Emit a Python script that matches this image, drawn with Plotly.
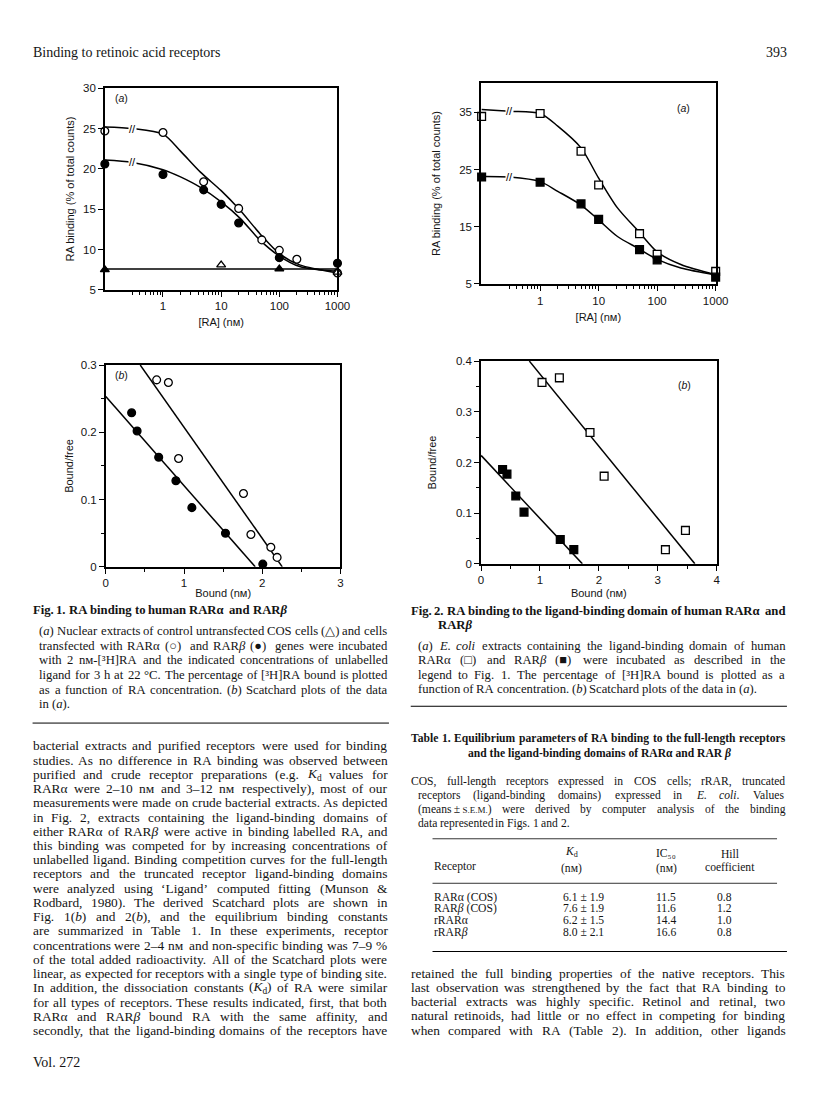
import math
import re
import plotly.graph_objects as go

# The html page keeps the browser's default 8px body margin, so the figure is
# drawn 8px to the right of / below the window corner.
PAGE_OFF = 8
W, H = 808, 1084
XS = 1.01  # slight horizontal stretch about the left text margin
def px(x): return (30 + (x - 30) * XS - PAGE_OFF) / W
def py(y): return 1 - (y - PAGE_OFF) / H

# ---------------- DATA ----------------
# Fig 1a: RA competition, COS cells
f1a_open_x = [0.1, 1, 5, 20, 50, 100, 200, 1000]
f1a_open_y = [24.7, 24.5, 18.4, 15.1, 11.2, 9.9, 8.8, 7.1]
f1a_fill_x = [0.1, 1, 5, 10, 20, 100, 1000]
f1a_fill_y = [20.6, 19.3, 17.4, 15.6, 13.3, 9.0, 8.3]
f1a_otri_x = [10, 1000]
f1a_otri_y = [8.1, 7.2]
f1a_ftri_x = [0.1, 100]
f1a_ftri_y = [7.5, 7.6]
f1a_curve_x = [0.1, 0.3, 1, 2, 4.4, 10, 21, 46, 100, 224, 1000]
f1a_curve_open = [25.2, 25.0, 24.3, 22.2, 19.6, 17.3, 14.9, 12.0, 9.5, 8.1, 7.1]
f1a_curve_fill = [21.1, 20.8, 19.9, 19.0, 17.7, 15.9, 13.9, 11.2, 9.2, 7.9, 7.3]
f1a_ctrl_x = [0.1, 1000]
f1a_ctrl_y = [7.6, 7.6]

# Fig 2a: RA competition, E. coli extracts
f2a_x = [0.1, 1, 5, 10, 50, 100, 1000]
f2a_open_y = [34.3, 34.8, 28.2, 22.3, 13.8, 10.2, 7.2]
f2a_fill_y = [23.7, 22.8, 19.0, 16.3, 11.0, 9.2, 6.2]
f2a_curve_x = [0.1, 0.3, 1, 2, 5, 10, 21, 48, 100, 254, 1000]
f2a_curve_open = [35.5, 35.2, 34.8, 32.6, 28.8, 23.5, 18.3, 14.2, 10.6, 8.4, 6.6]
f2a_curve_fill = [23.8, 23.7, 22.9, 21.2, 18.8, 16.2, 13.3, 11.2, 9.3, 7.8, 6.6]

# Fig 1b: Scatchard
f1b_open_x = [0.65, 0.80, 0.93, 1.76, 1.855, 2.11, 2.19]
f1b_open_y = [0.278, 0.274, 0.161, 0.109, 0.048, 0.029, 0.014]
f1b_fill_x = [0.33, 0.40, 0.676, 0.896, 1.10, 1.53, 2.007]
f1b_fill_y = [0.229, 0.202, 0.163, 0.128, 0.088, 0.050, 0.004]
f1b_line_open_x = [0.44, 2.256]
f1b_line_open_y = [0.30, 0.0]
f1b_line_fill_x = [0.0, 1.91]
f1b_line_fill_y = [0.2533, 0.0]

# Fig 2b: Scatchard
f2b_open_x = [1.035, 1.33, 1.85, 2.09, 3.13, 3.47]
f2b_open_y = [0.358, 0.367, 0.259, 0.173, 0.028, 0.066]
f2b_fill_x = [0.366, 0.44, 0.59, 0.73, 1.345, 1.575]
f2b_fill_y = [0.186, 0.177, 0.134, 0.102, 0.048, 0.028]
f2b_line_open_x = [0.82, 3.63]
f2b_line_open_y = [0.40, 0.0]
f2b_line_fill_x = [0.0, 1.72]
f2b_line_fill_y = [0.214, 0.0]

break_x = 0.3

log_ticks = [1, 10, 100, 1000]
log_labels = ["1", "10", "100", "1000"]
log_minor = [0.3, 0.4, 0.5, 0.6, 0.7, 0.8, 0.9] + [m * d for d in (1, 10, 100) for m in range(2, 10)]
f1a_yticks = [5, 10, 15, 20, 25, 30]
f2a_yticks = [5, 15, 25, 35]
f1b_xticks = [0, 1, 2, 3]
f1b_yticks = [0, 0.1, 0.2, 0.3]
f1b_ylabels = ["0", "0.1", "0.2", "0.3"]
f2b_xticks = [0, 1, 2, 3, 4]
f2b_yticks = [0, 0.1, 0.2, 0.3, 0.4]
f2b_ylabels = ["0", "0.1", "0.2", "0.3", "0.4"]

# Table 1
tbl_receptor = ["RARα (COS)", "RAR<i>β</i> (COS)", "rRARα", "rRAR<i>β</i>"]
tbl_kd = ["6.1 ± 1.9", "7.6 ± 1.9", "6.2 ± 1.5", "8.0 ± 2.1"]
tbl_ic50 = ["11.5", "11.6", "14.4", "16.6"]
tbl_hill = ["0.8", "1.2", "1.0", "0.8"]

body_left = [
    "bacterial extracts and purified receptors were used for binding",
    "studies. As no difference in RA binding was observed between",
    "purified and crude receptor preparations (e.g. <i>K</i><sub>d</sub> values for",
    "RARα were 2–10 nᴍ and 3–12 nᴍ respectively), most of our",
    "measurements were made on crude bacterial extracts. As depicted",
    "in Fig. 2, extracts containing the ligand-binding domains of",
    "either RARα of RAR<i>β</i> were active in binding labelled RA, and",
    "this binding was competed for by increasing concentrations of",
    "unlabelled ligand. Binding competition curves for the full-length",
    "receptors and the truncated receptor ligand-binding domains",
    "were analyzed using ‘Ligand’ computed fitting (Munson &amp;",
    "Rodbard, 1980). The derived Scatchard plots are shown in",
    "Fig. 1(<i>b</i>) and 2(<i>b</i>), and the equilibrium binding constants",
    "are summarized in Table 1. In these experiments, receptor",
    "concentrations were 2–4 nᴍ and non-specific binding was 7–9 %",
    "of the total added radioactivity. All of the Scatchard plots were",
    "linear, as expected for receptors with a single type of binding site.",
    "In addition, the dissociation constants (<i>K</i><sub>d</sub>) of RA were similar",
    "for all types of receptors. These results indicated, first, that both",
    "RARα and RAR<i>β</i> bound RA with the same affinity, and",
    "secondly, that the ligand-binding domains of the receptors have",
]
body_right = [
    "retained the full binding properties of the native receptors. This",
    "last observation was strengthened by the fact that RA binding to",
    "bacterial extracts was highly specific. Retinol and retinal, two",
    "natural retinoids, had little or no effect in competing for binding",
    "when compared with RA (Table 2). In addition, other ligands",
]
cap1_title = "Fig. 1. RA binding to human RARα and RAR<i>β</i>"
cap1 = [
    "(<i>a</i>) Nuclear extracts of control untransfected COS cells (△) and cells",
    "transfected with RARα (○) and RAR<i>β</i> (●) genes were incubated",
    "with 2 nᴍ-[³H]RA and the indicated concentrations of unlabelled",
    "ligand for 3 h at 22 °C. The percentage of [³H]RA bound is plotted",
    "as a function of RA concentration. (<i>b</i>) Scatchard plots of the data",
    "in (<i>a</i>).",
]
cap2_title = ["Fig. 2. RA binding to the ligand-binding domain of human RARα and", "RAR<i>β</i>"]
cap2 = [
    "(<i>a</i>) <i>E.</i> <i>coli</i> extracts containing the ligand-binding domain of human",
    "RARα (□) and RAR<i>β</i> (■) were incubated as described in the",
    "legend to Fig. 1. The percentage of [³H]RA bound is plotted as a",
    "function of RA concentration. (<i>b</i>) Scatchard plots of the data in (<i>a</i>).",
]
tbl_title = ["Table 1. Equilibrium parameters of RA binding to the full-length receptors",
             "and the ligand-binding domains of RARα and RAR <i>β</i>"]
tbl_note = [
    "COS, full-length receptors expressed in COS cells; rRAR, truncated",
    "receptors (ligand-binding domains) expressed in <i>E.</i> <i>coli</i>. Values",
    "(means\u2009±\u2009<span style='font-size:9px'>S.E.M.</span>) were derived by computer analysis of the binding",
    "data represented in Figs. 1 and 2.",
]

# ---------------- text metrics (Times / Liberation Serif, per 1000 em) -------------
def _tbl(s, w):
    return {c: w for c in s}
TR = {}
TR.update(_tbl("0123456789", 500)); TR.update({" ": 250, "\u2009": 200, ",": 250, ".": 250, ";": 278, ":": 278,
          "(": 333, ")": 333, "[": 333, "]": 333, "-": 333, "–": 500, "‘": 333, "’": 333, "&": 778,
          "%": 833, "±": 564, "°": 400, "³": 300, "α": 560, "β": 520, "ᴍ": 700, "/": 278,
          "△": 780, "○": 870, "●": 870, "□": 780, "■": 780})
TR.update(dict(zip("ABCDEFGHIJKLMNOPQRSTUVWXYZ",
                   [722, 667, 667, 722, 611, 556, 722, 722, 333, 389, 722, 611, 889, 722, 722, 556, 722, 667, 556, 611, 722, 722, 944, 722, 722, 611])))
TR.update(dict(zip("abcdefghijklmnopqrstuvwxyz",
                   [444, 500, 444, 500, 444, 333, 500, 500, 278, 278, 500, 278, 778, 500, 500, 500, 500, 333, 389, 278, 500, 500, 722, 500, 500, 444])))
TB = dict(TR)
TB.update(dict(zip("ABCDEFGHIJKLMNOPQRSTUVWXYZ",
                   [722, 667, 722, 722, 667, 611, 778, 778, 389, 500, 778, 667, 944, 722, 778, 611, 778, 722, 556, 667, 722, 722, 1000, 722, 722, 667])))
TB.update(dict(zip("abcdefghijklmnopqrstuvwxyz",
                   [500, 556, 444, 556, 444, 333, 500, 556, 278, 333, 556, 278, 833, 556, 500, 556, 556, 444, 389, 333, 556, 500, 722, 500, 500, 444])))
TB.update({"α": 780, "β": 640})
TI = dict(TR)
TI.update(dict(zip("ABCDEFGHIJKLMNOPQRSTUVWXYZ",
                   [611, 611, 667, 722, 611, 611, 722, 722, 333, 444, 667, 556, 833, 667, 722, 611, 722, 611, 500, 556, 722, 611, 833, 611, 556, 556])))
TI.update(dict(zip("abcdefghijklmnopqrstuvwxyz",
                   [500, 500, 444, 500, 444, 278, 500, 500, 278, 278, 444, 278, 722, 500, 500, 500, 500, 389, 389, 278, 500, 444, 667, 444, 444, 389])))

def measure(html, size, bold=False):
    total = 0.0
    it = False; sub = False; override = None
    for tok in re.split(r"(<[^>]+>|&amp;)", html):
        if not tok:
            continue
        if tok.startswith("<"):
            t = tok.lower()
            if t == "<i>": it = True
            elif t == "</i>": it = False
            elif t in ("<sub>", "<sup>"): sub = True
            elif t in ("</sub>", "</sup>"): sub = False
            elif t.startswith("<span"):
                m = re.search(r"font-size:\s*([\d.]+)px", t)
                override = float(m.group(1)) if m else None
            elif t == "</span>": override = None
            continue
        if tok == "&amp;":
            tok = "&"
        table = TB if bold else (TI if it else TR)
        f = (override or size) * (0.7 if sub else 1.0)
        for ch in tok:
            total += table.get(ch, 500) / 1000.0 * f
    return total

# ---------------- FIGURE ----------------
SERIF = "Liberation Serif, Times New Roman, serif"
SANS = "Liberation Sans, Arial, Helvetica, sans-serif"
INK = "#141414"
fig = go.Figure()

frames = {
    1: (103, 338, 83, 287),   # fig 1a
    2: (483, 720, 78, 281),   # fig 2a
    3: (104, 341, 363, 567),  # fig 1b
    4: (483, 721, 359, 564),  # fig 2b
}

def axes_names(i):
    return ("x" if i == 1 else f"x{i}"), ("y" if i == 1 else f"y{i}")

def line_trace(i, x, y):
    xa, ya = axes_names(i)
    fig.add_trace(go.Scatter(x=x, y=y, mode="lines", xaxis=xa, yaxis=ya,
                             line=dict(color="black", width=1.5, shape="spline", smoothing=0.8),
                             showlegend=False, hoverinfo="skip", cliponaxis=False))

def marker_trace(i, x, y, symbol, filled, size=7.8):
    xa, ya = axes_names(i)
    fig.add_trace(go.Scatter(x=x, y=y, mode="markers", xaxis=xa, yaxis=ya,
                             marker=dict(symbol=symbol, size=size,
                                         color="black" if filled else "white",
                                         line=dict(color="black", width=1.3)),
                             showlegend=False, hoverinfo="skip", cliponaxis=False))

line_trace(1, f1a_curve_x, f1a_curve_open)
line_trace(1, f1a_curve_x, f1a_curve_fill)
line_trace(1, f1a_ctrl_x, f1a_ctrl_y)
marker_trace(1, f1a_open_x, f1a_open_y, "circle", False)
marker_trace(1, f1a_fill_x, f1a_fill_y, "circle", True)
marker_trace(1, f1a_otri_x, f1a_otri_y, "triangle-up", False)
marker_trace(1, f1a_ftri_x, f1a_ftri_y, "triangle-up", True)

line_trace(2, f2a_curve_x, f2a_curve_open)
line_trace(2, f2a_curve_x, f2a_curve_fill)
marker_trace(2, f2a_x, f2a_open_y, "square", False)
marker_trace(2, f2a_x, f2a_fill_y, "square", True)

line_trace(3, f1b_line_open_x, f1b_line_open_y)
line_trace(3, f1b_line_fill_x, f1b_line_fill_y)
marker_trace(3, f1b_open_x, f1b_open_y, "circle", False)
marker_trace(3, f1b_fill_x, f1b_fill_y, "circle", True)

line_trace(4, f2b_line_open_x, f2b_line_open_y)
line_trace(4, f2b_line_fill_x, f2b_line_fill_y)
marker_trace(4, f2b_open_x, f2b_open_y, "square", False)
marker_trace(4, f2b_fill_x, f2b_fill_y, "square", True)

TS = 11
base_axis = dict(showline=True, linecolor="black", linewidth=1.5, mirror=True,
                 ticks="outside", ticklen=5, tickwidth=1.2, tickcolor="black",
                 showgrid=False, zeroline=False,
                 tickfont=dict(family=SANS, size=11.5, color=INK))

def set_axes(i, xa, ya, xtitle, ytitle, xstand, ystand):
    l, r, t, b = frames[i]
    xk = "xaxis" if i == 1 else f"xaxis{i}"
    yk = "yaxis" if i == 1 else f"yaxis{i}"
    xname, yname = axes_names(i)
    fig.update_layout({
        xk: dict(base_axis, domain=[px(l), px(r)], anchor=yname,
                 title=dict(text=xtitle, standoff=xstand, font=dict(family=SANS, size=TS, color=INK)), **xa),
        yk: dict(base_axis, domain=[py(b), py(t)], anchor=xname,
                 title=dict(text=ytitle, standoff=ystand, font=dict(family=SANS, size=TS, color=INK)), **ya),
    })

minor_log = dict(tickvals=log_minor, ticklen=3, ticks="outside", tickcolor="black", tickwidth=1)
minor_half = dict(dtick=0.5, ticklen=3, ticks="outside", tickcolor="black")
minor_y = dict(dtick=0.05, ticklen=3, ticks="outside", tickcolor="black")
RA_T = "[RA] (nᴍ)"
RB_T = "RA binding (% of total counts)"
set_axes(1, dict(type="log", range=[-1.0, 3.0], tickvals=log_ticks, ticktext=log_labels, minor=minor_log),
         dict(range=[5, 30], tickvals=f1a_yticks), RA_T, RB_T, 7, 6)
set_axes(2, dict(type="log", range=[-1.01, 3.0], tickvals=log_ticks, ticktext=log_labels, minor=minor_log),
         dict(range=[5, 40.1], tickvals=f2a_yticks), RA_T, RB_T, 8, 16)
set_axes(3, dict(range=[0, 3], tickvals=f1b_xticks, minor=minor_half),
         dict(range=[0, 0.3], tickvals=f1b_yticks, ticktext=f1b_ylabels, minor=minor_y),
         "Bound (nᴍ)", "Bound/free", 1, 5)
set_axes(4, dict(range=[0, 4], tickvals=f2b_xticks, minor=minor_half),
         dict(range=[0, 0.4], tickvals=f2b_yticks, ticktext=f2b_ylabels, minor=minor_y),
         "Bound (nᴍ)", "Bound/free", 4, 17)

annotations = []

def text(x, y, s, size=13.4, family=SERIF, anchor="left", angle=0, color=INK):
    annotations.append(dict(x=px(x), y=py(y), xref="paper", yref="paper", text=s,
                            showarrow=False, xanchor=anchor, yanchor="middle",
                            borderpad=0, borderwidth=0,
                            textangle=angle, font=dict(family=family, size=size, color=color)))

def para_line(x0, x1, y, html, size, justify=True, bold=False):
    words = re.findall(r"(?:<[^>]*>|[^ <])+", html)
    widths = [measure(w, size, bold) for w in words]
    space = 0.25 * size
    gap = space
    if justify and len(words) > 1:
        gap = (x1 - x0 - sum(widths)) / (len(words) - 1)
        if gap < 0.8 * space:
            gap = 0.8 * space
    x = x0
    for w, wd in zip(words, widths):
        text(x, y, f"<b>{w}</b>" if bold else w, size)
        x += wd + gap

# break marks on curves
for i, cx, cys in ((1, f1a_curve_x, (f1a_curve_open, f1a_curve_fill)),
                   (2, f2a_curve_x, (f2a_curve_open, f2a_curve_fill))):
    xa, ya = axes_names(i)
    k = cx.index(break_x)
    for cy in cys:
        annotations.append(dict(x=math.log10(break_x), y=cy[k], xref=xa, yref=ya, text="//",
                                showarrow=False, bgcolor="white", borderpad=0,
                                font=dict(family=SANS, size=11, color="black")))

# panel labels
text(113, 93, "(<i>a</i>)", 10.5, SANS)
text(681, 103, "(<i>a</i>)", 10.5, SANS)
text(113, 373, "(<i>b</i>)", 10.5, SANS)
text(682, 383, "(<i>b</i>)", 10.5, SANS)

# running head
text(30, 47, "Binding to retinoic acid receptors", 14)
text(792, 47, "393", 14, anchor="right")

# column geometry
LX0, LX1 = 30, 388
RX0, RX1 = 412, 790

# Fig 1 caption
CAP = 12.7
para_line(LX0, LX1, 611, cap1_title, CAP, justify=False, bold=True)
for k, s in enumerate(cap1):
    para_line(37, LX1, 632 + 14.8 * k, s, CAP, justify=(k < len(cap1) - 1))
# Fig 2 caption
para_line(RX0, RX1, 612, cap2_title[0], CAP, justify=True, bold=True)
para_line(440, RX1, 626, cap2_title[1], CAP, justify=False, bold=True)
for k, s in enumerate(cap2):
    para_line(419, RX1, 647 + 14.6 * k, s, CAP, justify=(k < len(cap2) - 1))

# Table 1
TT = 11.6
para_line(RX0, RX1, 741, tbl_title[0], TT, justify=True, bold=True)
text(603, 756, f"<b>{tbl_title[1]}</b>", TT, anchor="center")
TN = 11.6
for k, s in enumerate(tbl_note):
    para_line(RX0 if k == 0 else 419, RX1, 784 + 14.1 * k, s, TN, justify=(k < len(tbl_note) - 1))
text(435, 870, "Receptor", TN)
text(574, 855, "<i>K</i><sub>d</sub>", TN, anchor="center")
text(574, 872, "(nᴍ)", TN, anchor="center")
text(670, 857, "IC₅₀", TN, anchor="center")
text(670, 872, "(nᴍ)", TN, anchor="center")
text(734, 858, "Hill", TN, anchor="center")
text(734, 871, "coefficient", TN, anchor="center")
for k in range(len(tbl_receptor)):
    yy = 901 + 12 * k
    text(435, yy, tbl_receptor[k], TN)
    text(587, yy, tbl_kd[k], TN, anchor="center")
    text(670, yy, tbl_ic50[k], TN, anchor="center")
    text(729, yy, tbl_hill[k], TN, anchor="center")

# Body text (justified)
BODY = 13.4
for k, s in enumerate(body_left):
    para_line(LX0, LX1, 748 + 14.4 * k, s, BODY)
for k, s in enumerate(body_right):
    para_line(RX0, RX1, 978 + 14.4 * k, s, BODY)
text(30, 1068, "Vol. 272", 14)

shapes = []
def rule(x0, x1, y, w=1.0):
    shapes.append(dict(type="line", xref="paper", yref="paper", x0=px(x0), x1=px(x1),
                       y0=py(y), y1=py(y), line=dict(color="black", width=w)))
rule(30, 390, 725)
rule(412, 792, 708)
rule(434, 782, 842, 0.8)
rule(434, 782, 887, 0.8)
rule(434, 792, 956, 1.2)

fig.update_layout(width=W, height=H, margin=dict(l=0, r=0, t=0, b=0),
                  paper_bgcolor="white", plot_bgcolor="white",
                  annotations=annotations, shapes=shapes, showlegend=False)
fig.write_html("out.html")
